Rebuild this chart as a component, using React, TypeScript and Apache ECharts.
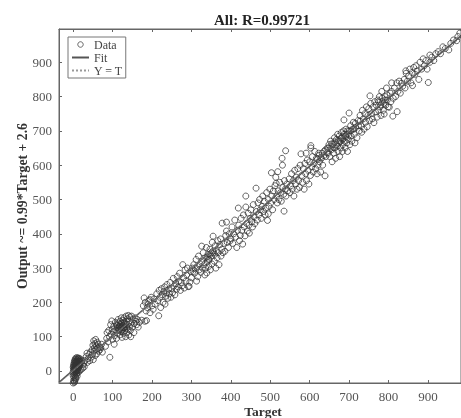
import React, { useEffect, useRef } from "react";
import * as echarts from "echarts";

const titleText = "All: R=0.99721";
const xName = "Target";
const yName = "Output ~= 0.99*Target + 2.6";
const xTicks = [0, 100, 200, 300, 400, 500, 600, 700, 800, 900];
const yTicks = [0, 100, 200, 300, 400, 500, 600, 700, 800, 900];
const fitLine = [[-36, -33], [984, 977]];
const identityLine = [[-36, -36], [984, 984]];

const dataNearZero = [[0,-35],[1,-28],[3,-33],[5,-25],[2,-20],[6,-18],[0,-14],[4,-12],[8,-10],[1,-8],[3,-5],[6,-3],[9,-6],[0,-2],[2,2],[5,0],[8,3],[11,1],[1,6],[3,8],[6,6],[9,8],[12,5],[0,11],[2,13],[5,12],[8,14],[11,11],[14,9],[1,17],[4,18],[7,17],[10,19],[13,16],[16,14],[2,22],[5,24],[8,22],[11,24],[14,21],[17,18],[3,27],[6,29],[9,28],[12,30],[15,26],[18,24],[4,32],[7,34],[10,33],[13,35],[16,31],[20,28],[6,37],[9,39],[12,38],[15,37],[18,35],[22,30],[25,18],[28,12],[24,8],[20,4],[16,0],[13,-4],[10,-15],[7,-22],[4,-30]];
const data30to75 = [[30,30],[33,42],[36,25],[38,36],[40,48],[42,30],[44,55],[46,40],[48,62],[49,48],[50,75],[51,33],[52,88],[53,58],[54,68],[55,80],[56,45],[57,92],[58,62],[59,72],[60,50],[61,84],[62,66],[63,78],[65,58],[66,70],[68,62],[70,68],[72,78],[74,55],[35,52],[27,22]];
const data80to190 = [[82,72],[85,95],[86,112],[88,85],[90,118],[92,100],[93,40],[95,135],[96,108],[98,146],[99,122],[100,92],[102,115],[103,130],[104,78],[105,103],[107,142],[108,120],[110,95],[111,135],[112,110],[113,126],[114,150],[115,140],[116,118],[117,130],[118,105],[119,145],[120,124],[120,135],[121,115],[122,155],[122,128],[123,140],[124,98],[125,132],[125,120],[126,148],[127,110],[128,137],[128,125],[129,155],[130,143],[131,118],[132,130],[133,100],[134,160],[135,145],[136,112],[137,135],[138,152],[139,122],[140,162],[141,105],[142,145],[143,130],[144,158],[145,118],[146,100],[147,140],[148,160],[150,128],[152,150],[154,112],[155,138],[157,155],[159,145],[161,135],[163,150],[165,128],[168,142],[174,148],[182,145],[186,147]];
const data178to300 = [[178,190],[180,213],[183,200],[185,175],[188,185],[190,195],[192,205],[195,208],[195,170],[198,215],[200,190],[203,180],[205,210],[208,195],[212,225],[215,205],[217,161],[218,235],[220,215],[222,185],[224,240],[226,222],[228,200],[230,232],[232,245],[233,195],[235,218],[236,228],[238,252],[240,212],[242,238],[244,225],[246,258],[248,215],[250,240],[252,228],[254,270],[256,248],[258,222],[260,255],[262,238],[264,275],[266,245],[268,262],[270,285],[272,235],[274,258],[276,248],[278,310],[280,272],[282,242],[284,295],[286,262],[288,280],[290,300],[292,246],[294,247],[296,259],[298,290],[300,272]];
const data300to400 = [[302,300],[304,290],[306,310],[308,285],[310,298],[312,325],[313,262],[315,305],[316,275],[318,335],[320,295],[322,312],[324,288],[326,364],[327,320],[328,300],[330,345],[332,310],[334,280],[335,330],[336,300],[338,360],[339,286],[340,318],[342,340],[344,305],[345,325],[347,355],[348,295],[350,335],[352,312],[353,375],[355,393],[356,345],[358,320],[360,365],[362,300],[363,350],[365,330],[367,380],[368,345],[370,310],[372,368],[374,385],[375,335],[377,355],[378,431],[380,345],[382,372],[385,349],[387,395],[389,434],[389,408],[391,375],[394,360],[396,400],[398,379]];
const data400to545 = [[400,385],[403,420],[405,372],[407,400],[410,440],[412,390],[415,360],[417,410],[419,475],[420,425],[422,380],[424,395],[426,445],[428,410],[430,370],[432,455],[434,420],[436,394],[438,510],[438,478],[440,430],[442,408],[444,460],[446,425],[447,402],[449,445],[451,470],[453,435],[455,420],[457,485],[459,450],[461,430],[464,533],[465,465],[467,440],[469,490],[471,455],[473,500],[475,470],[477,445],[479,480],[481,510],[483,465],[485,495],[487,455],[489,475],[491,520],[493,439],[495,458],[495,500],[497,480],[499,530],[501,490],[503,578],[504,510],[506,470],[508,525],[510,500],[512,540],[514,565],[515,547],[516,510],[518,490],[519,581],[520,525],[522,500],[524,550],[526,520],[528,495],[530,620],[531,600],[532,535],[534,515],[535,466],[536,555],[538,530],[539,642],[540,510],[542,545],[544,525]];
const data548to641 = [[548,560],[550,520],[552,540],[554,575],[556,530],[558,555],[560,510],[562,585],[564,545],[566,565],[568,530],[570,590],[572,555],[574,535],[576,600],[578,633],[580,570],[582,550],[584,590],[586,530],[588,605],[590,575],[591,635],[592,555],[594,615],[596,585],[598,545],[600,610],[602,570],[603,657],[603,650],[605,595],[607,625],[609,580],[611,605],[613,640],[615,590],[617,620],[619,575],[621,600],[623,635],[625,610],[628,580],[630,620],[633,600],[636,640],[639,569],[641,625]];
const data645to723 = [[645,650],[647,635],[649,660],[651,625],[653,670],[655,645],[657,610],[659,660],[661,635],[663,680],[664,650],[666,620],[668,675],[670,655],[671,690],[672,640],[674,665],[675,685],[676,625],[678,670],[679,650],[680,695],[682,680],[683,640],[684,660],[686,700],[687,732],[688,670],[690,650],[691,685],[692,705],[694,665],[695,690],[696,640],[698,675],[700,752],[700,700],[702,660],[704,715],[705,685],[707,670],[709,705],[711,725],[713,690],[715,665],[717,710],[720,680],[723,730]];
const data726to836 = [[726,700],[728,745],[730,715],[732,696],[734,760],[736,735],[738,705],[740,750],[742,725],[744,770],[746,712],[748,745],[750,765],[752,730],[753,802],[755,780],[757,750],[759,735],[761,770],[763,724],[765,785],[767,755],[769,775],[771,740],[773,790],[775,760],[777,800],[779,770],[781,745],[783,815],[785,785],[787,760],[789,749],[791,800],[793,775],[795,825],[797,790],[799,770],[802,769],[804,810],[806,785],[808,840],[808,815],[811,743],[812,795],[815,825],[818,800],[821,840],[822,756],[824,815],[827,845],[830,810],[833,839],[836,830]];
const data840to981 = [[840,850],[842,825],[844,875],[845,868],[848,845],[851,860],[854,880],[857,840],[860,870],[861,832],[864,885],[867,865],[870,890],[873,875],[877,850],[880,900],[884,880],[888,910],[891,890],[895,905],[898,880],[901,841],[905,921],[905,900],[910,915],[915,905],[920,925],[926,931],[932,925],[938,945],[944,940],[953,936],[958,955],[965,965],[973,963],[976,975],[981,985]];
const dataDenseBands = [[120,128],[123,118],[126,132],[130,126],[133,138],[116,126],[112,132],[136,125],[340,332],[343,326],[347,340],[351,345],[355,350],[359,340],[620,618],[624,628],[628,622],[632,635],[636,628],[640,645],[644,636],[648,650],[652,648],[656,662],[660,652],[664,668],[668,660],[672,672],[676,668],[680,680],[684,676],[688,690],[692,682],[696,700],[700,688],[704,700],[712,705],[716,722],[724,715],[728,728],[775,785],[780,775],[784,795],[788,780],[792,790],[796,805],[5,15],[8,25],[10,5],[12,20],[6,10],[9,-1],[4,5],[14,28]];

const scatterData = [
  ...dataNearZero, ...data30to75, ...data80to190, ...data178to300, ...data300to400,
  ...data400to545, ...data548to641, ...data645to723, ...data726to836, ...data840to981,
  ...dataDenseBands,
];

const SERIF = "'Liberation Serif', serif";
const AXIS_COLOR = "#666666";

export default function App() {
  const ref = useRef<HTMLDivElement>(null);
  useEffect(() => {
    document.body.style.margin = "0";
    const chart = echarts.init(ref.current!, null, { renderer: "svg" });
    const tick = { show: true, inside: true, length: 3, lineStyle: { color: AXIS_COLOR, width: 1 } };
    const hiddenLegendSymbol = { color: "rgba(0,0,0,0)", borderWidth: 0, opacity: 0 };
    chart.setOption({
      animation: false,
      backgroundColor: "#ffffff",
      textStyle: { fontFamily: SERIF },
      title: {
        text: titleText, left: 262, top: 12, textAlign: "center", padding: 0,
        textStyle: { fontFamily: SERIF, fontSize: 15, fontWeight: "bold", color: "#222222" },
      },
      legend: {
        orient: "vertical", left: 68, top: 37, padding: [1, 3, 1, 3], itemGap: 0,
        itemWidth: 17, itemHeight: 5.5, backgroundColor: "#ffffff",
        borderColor: "#777777", borderWidth: 1, z: 10,
        textStyle: { fontFamily: SERIF, fontSize: 12, color: "#444444", lineHeight: 13 },
        data: [
          { name: "Data", icon: "circle", itemStyle: { color: "rgba(0,0,0,0)", borderColor: "#3a3a3a", borderWidth: 1 } },
          { name: "Fit", itemStyle: hiddenLegendSymbol },
          { name: "Y = T", itemStyle: hiddenLegendSymbol },
        ],
      },
      grid: { left: 59, right: 0, top: 29, bottom: 35, outerBoundsMode: "none", containLabel: false, show: true, borderColor: AXIS_COLOR, borderWidth: 1 },
      xAxis: [
        {
          type: "value", min: -36, max: 984, name: xName, nameLocation: "middle", nameGap: 21, nameMoveOverlap: false,
          nameTextStyle: { fontFamily: SERIF, fontSize: 13.5, fontWeight: "bold", color: "#333333", padding: [0, 0, 0, 6] },
          splitLine: { show: false },
          axisLine: { onZero: false, lineStyle: { color: AXIS_COLOR } },
          axisTick: { ...tick, customValues: xTicks },
          axisLabel: { customValues: xTicks, color: "#555555", fontFamily: SERIF, fontSize: 13, margin: 7 },
        },
        {
          type: "value", position: "top", min: -36, max: 984,
          splitLine: { show: false },
          axisLine: { onZero: false, lineStyle: { color: AXIS_COLOR } },
          axisTick: { ...tick, customValues: xTicks },
          axisLabel: { show: false },
        },
      ],
      yAxis: {
        type: "value", min: -35, max: 997, name: yName, nameLocation: "middle", nameGap: 30, nameMoveOverlap: false,
        nameTextStyle: { fontFamily: SERIF, fontSize: 13.75, fontWeight: "bold", color: "#333333" },
        splitLine: { show: false },
        axisLine: { onZero: false, lineStyle: { color: AXIS_COLOR } },
        axisTick: { ...tick, customValues: yTicks },
        axisLabel: { customValues: yTicks, color: "#555555", fontFamily: SERIF, fontSize: 13, margin: 7 },
      },
      series: [
        {
          name: "Data", type: "scatter", data: scatterData, symbol: "circle", symbolSize: 6, clip: true,
          itemStyle: { color: "rgba(0,0,0,0)", borderColor: "#333333", borderWidth: 1, opacity: 0.75 },
        },
        {
          name: "Fit", type: "line", data: fitLine, symbol: "none", clip: true,
          itemStyle: { color: "#555555" },
          lineStyle: { color: "#555555", width: 1.5 },
        },
        {
          name: "Y = T", type: "line", data: identityLine, symbol: "none", clip: true,
          itemStyle: { color: "#888888" },
          lineStyle: { color: "#999999", width: 1, type: "dotted" },
        },
      ],
    });
    return () => chart.dispose();
  }, []);
  return <div ref={ref} style={{ width: 461, height: 418, filter: "blur(0.4px)" }} />;
}
